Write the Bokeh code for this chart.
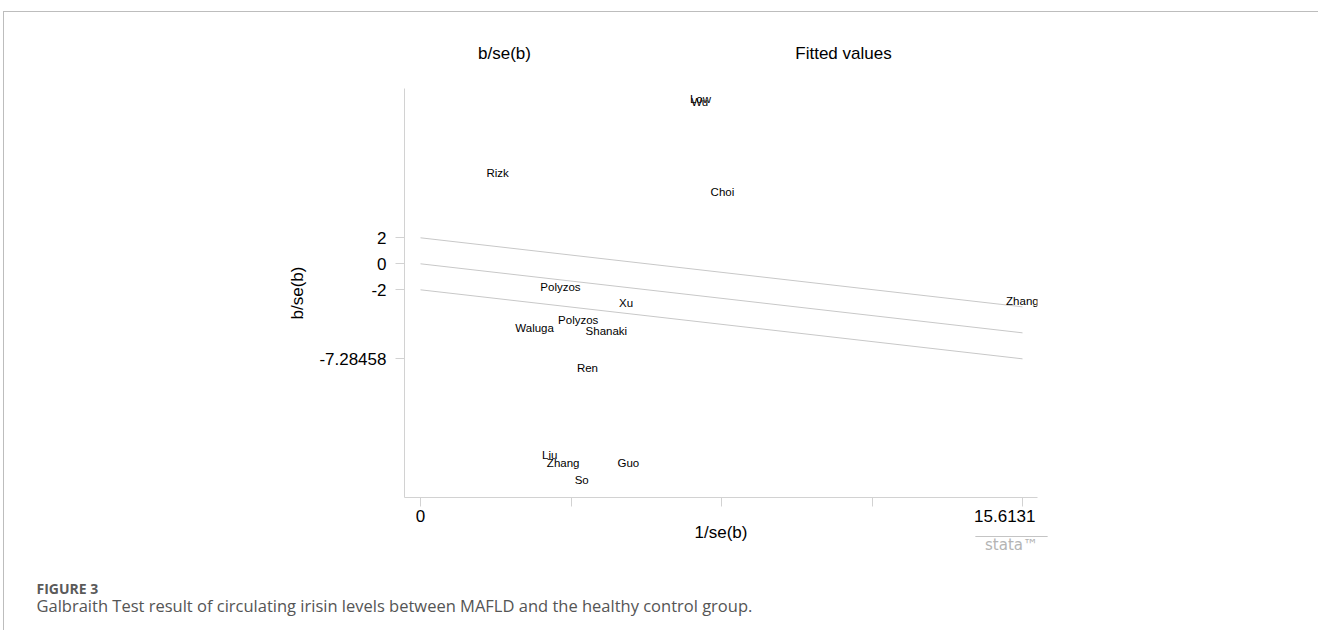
from bokeh.plotting import figure
from bokeh.models import Range1d, FixedTicker, Label, ColumnDataSource
from bokeh.core.properties import value
from bokeh.embed import file_html
from bokeh.resources import INLINE

# ---------------- data ----------------
study = ["Low", "Wu", "Rizk", "Choi", "Zhang", "Polyzos", "Xu", "Polyzos",
         "Waluga", "Shanaki", "Ren", "Liu", "Zhang", "Guo", "So"]
precision = [7.26, 7.24, 2.00, 7.83, 15.61, 3.63, 5.33, 4.09,
             2.96, 4.82, 4.33, 3.35, 3.70, 5.39, 4.18]          # 1/se(b)
zscore = [12.64, 12.45, 6.95, 5.56, -2.88, -1.75, -3.03, -4.36,
          -4.92, -5.18, -7.98, -14.67, -15.31, -15.31, -16.62]   # b/se(b)

line_x = [0, 15.6131]
fit_y = [0, -5.31]
upper_y = [2, -3.31]
lower_y = [-2, -7.31]

x_major_ticks = [0, 15.6131]
x_minor_ticks = [3.9033, 7.8066, 11.7098]
y_ticks = [-7.28458, -2, 0, 2]
y_tick_labels = ["-7.28458", "-2", "0", "2"]

legend_labels = ["b/se(b)", "Fitted values"]
caption_head = "FIGURE 3"
caption_text = ("Galbraith Test result of circulating irisin levels between "
                "MAFLD and the healthy control group.")

# ---------------- layout (page pixels) ----------------
OX, OY = 4, 12                        # canvas origin on the page
XS, XE = -0.415, 16.002
YS, YE = -17.977, 13.485
FL, FR, FT, FB = 404, 1037, 88, 497   # frame edges in page pixels

def dx(px):
    return XS + (px - FL) * (XE - XS) / (FR - FL)

def dy(py):
    return YE - (py - FT) * (YE - YS) / (FB - FT)

W, H = 1315, 619
p = figure(width=W, height=H, output_backend="svg", toolbar_location=None,
           x_range=Range1d(XS, XE), y_range=Range1d(YS, YE),
           min_border_left=FL - OX, min_border_right=(OX + W) - FR,
           min_border_top=FT - OY, min_border_bottom=(OY + H) - FB)
p.styles = {"margin-left": "3px", "margin-top": "11px",
            "border-top": "1px solid #bdbdbd",
            "border-left": "1px solid #bdbdbd"}
p.grid.visible = False
p.outline_line_color = None
p.background_fill_color = "white"
p.border_fill_color = "white"

AX = "#d2d2d2"
FONT = "Liberation Sans"
for ax in (p.xaxis[0], p.yaxis[0]):
    ax.axis_line_color = AX
    ax.major_tick_line_color = AX
    ax.minor_tick_line_color = AX
    ax.major_tick_out = 9
    ax.major_tick_in = 0
    ax.minor_tick_out = 9
    ax.minor_tick_in = 0
    ax.major_label_text_font = FONT
    ax.major_label_text_font_size = "17px"
    ax.major_label_text_color = "black"
    ax.axis_label_text_font = FONT
    ax.axis_label_text_font_size = "17px"
    ax.axis_label_text_font_style = "normal"
    ax.axis_label_text_color = "black"

p.xaxis.ticker = FixedTicker(ticks=x_major_ticks, minor_ticks=x_minor_ticks)
p.xaxis.major_label_overrides = {0: "0", 15.6131: " "}
p.xaxis.major_label_standoff = 0
p.xaxis.axis_label = "1/se(b)"
p.xaxis.axis_label_standoff = -6

p.yaxis.ticker = FixedTicker(ticks=y_ticks, minor_ticks=[])
p.yaxis.major_label_overrides = {t: l for t, l in zip(y_ticks, y_tick_labels)}
p.yaxis.major_label_standoff = 9
p.yaxis.axis_label = "b/se(b)"
p.yaxis.axis_label_standoff = 9

# fitted line and +/- 2 bands
for ys in (upper_y, fit_y, lower_y):
    p.line(line_x, ys, line_color="#c8c8c8", line_width=1)

# study labels
src = ColumnDataSource(dict(x=precision, y=zscore, name=study))
p.text(x="x", y="y", text="name", source=src, text_align="center",
       text_baseline="middle", text_font=value(FONT), text_font_size="11.5px",
       text_color="black")


def lab(px, py, text, side, **kw):
    opts = dict(text_align="center", text_baseline="middle", text_font=FONT,
                text_font_size="17px", text_color="black")
    opts.update(kw)
    p.add_layout(Label(x=dx(px), y=dy(py), text=text, **opts), side)


# last x tick label (shifted left as in the reference)
lab(1035, 515, "15.6131", "right", text_align="right")
# stata logo: rule above + text
lab(1011, 536, "\u00a0", "right", text_font_size="1px",
    padding=dict(left=36, right=36, top=0, bottom=0),
    background_fill_color="#c4c4c4")
lab(1011, 544, "stata\u2122", "right", text_font="DejaVu Sans",
    text_font_size="15px", text_color="#b4b4b4")

# legend texts
for t, cx in zip(legend_labels, [504, 843]):
    lab(cx, 53, t, "above")

# caption
lab(36, 588, caption_head, "below", text_align="left", text_font="Open Sans",
    text_font_style="bold", text_font_size="14px", text_color="#5a5a5a")
lab(36, 605, caption_text, "below", text_align="left", text_font="Open Sans",
    text_font_size="16.5px", text_color="#555555")

open("out.html", "w").write(file_html(p, INLINE))
